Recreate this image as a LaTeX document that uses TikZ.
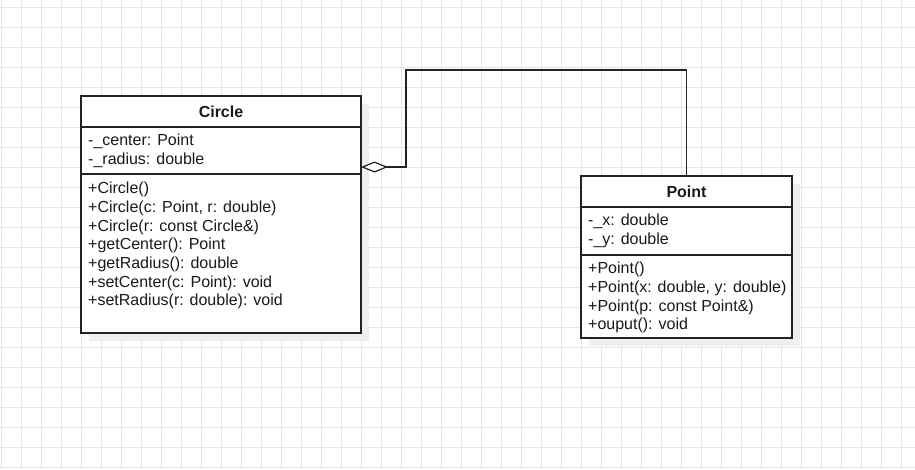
\documentclass[tikz,border=0pt]{standalone}
\usepackage{fontspec}
\setmainfont{Liberation Sans}
\usetikzlibrary{arrows.meta}
\definecolor{gridgray}{HTML}{E6E6E6}
\definecolor{edge}{HTML}{222222}
\definecolor{ink}{HTML}{1A1A1A}
\definecolor{shade}{HTML}{EFEFEF}
\tikzset{
  classbox/.style={draw=edge, line width=1.2pt, fill=white, inner sep=0pt, outer sep=0pt},
  classshadow/.style={fill=shade, draw=none},
  divider/.style={draw=edge, line width=1.1pt},
  member/.style={anchor=base west, inner sep=0pt, text=ink, font=\fontsize{16}{19}\selectfont},
  classtitle/.style={anchor=base, inner sep=0pt, text=ink, font=\fontsize{16}{19}\selectfont\bfseries},
  assoc/.style={draw=edge, line width=1.2pt},
}
\begin{document}
\begin{tikzpicture}[x=1pt, y=-1pt]
\useasboundingbox (0,0) rectangle (915,469);
\fill[white] (0,0) rectangle (915,469);
% background grid, 20px pitch
\foreach \gx in {1,21,...,901} \draw[gridgray, line width=0.8pt] (\gx,0) -- (\gx,469);
\foreach \gy in {7,27,...,467} \draw[gridgray, line width=0.8pt] (0,\gy) -- (915,\gy);

% ---- class Circle ----
\fill[classshadow] (89,104) rectangle (369,341);
\node[classbox, minimum width=280pt, minimum height=237pt, anchor=north west] (circle) at (81,96) {};
\draw[divider] (81,127) -- (361,127);
\draw[divider] (81,174) -- (361,174);
\node[classtitle] (circletitle) at (221,117) {Circle};
\node[member] (ca1) at (88,145) {-\_center: Point};
\node[member] (ca2) at (88,164) {-\_radius: double};
\node[member] (cm1) at (88,193) {+Circle()};
\node[member] (cm2) at (88,212) {+Circle(c: Point, r: double)};
\node[member] (cm3) at (88,231) {+Circle(r: const Circle\&)};
\node[member] (cm4) at (88,249.5) {+getCenter(): Point};
\node[member] (cm5) at (88,268) {+getRadius(): double};
\node[member] (cm6) at (88,287) {+setCenter(c: Point): void};
\node[member] (cm7) at (88,305.5) {+setRadius(r: double): void};

% ---- class Point ----
\fill[classshadow] (589,184) rectangle (800,346);
\node[classbox, minimum width=211pt, minimum height=162pt, anchor=north west] (point) at (581,176) {};
\draw[divider] (581,207) -- (792,207);
\draw[divider] (581,255) -- (792,255);
\node[classtitle] (pointtitle) at (686.5,197) {Point};
\node[member] (pa1) at (588,225) {-\_x: double};
\node[member] (pa2) at (588,244) {-\_y: double};
\node[member] (pm1) at (588,273) {+Point()};
\node[member] (pm2) at (588,292) {+Point(x: double, y: double)};
\node[member] (pm3) at (588,311) {+Point(p: const Point\&)};
\node[member] (pm4) at (588,329.5) {+ouput(): void};

% ---- aggregation Circle <>-- Point ----
\coordinate (agg) at (circle.east |- 0,167);
\coordinate (bend) at (406,70);
\draw[assoc, {Diamond[open, length=27pt, width=11pt, fill=white, line width=1.2pt]}-]
  (agg) -| (bend) -| (point.north);
\end{tikzpicture}
\end{document}
